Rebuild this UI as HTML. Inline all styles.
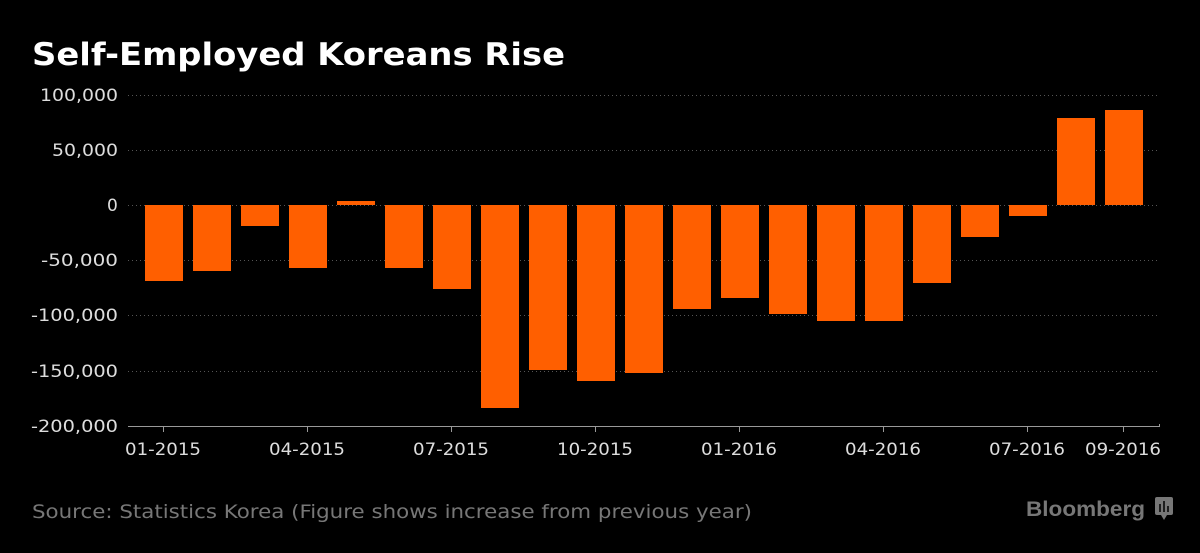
<!DOCTYPE html>
<html><head><meta charset="utf-8"><style>
html,body{margin:0;padding:0;background:#000;}
svg{display:block}
</style></head><body>
<svg width="1200" height="553" xmlns="http://www.w3.org/2000/svg">
<rect width="1200" height="553" fill="#000"/>
<text x="32" y="65" font-family="DejaVu Sans, sans-serif" font-weight="bold" font-size="31" fill="#fff" textLength="533" lengthAdjust="spacingAndGlyphs">Self-Employed Koreans Rise</text>
<g stroke="#555" stroke-width="1" stroke-dasharray="1,3">
<line x1="128" x2="1158" y1="95.5" y2="95.5"/>
<line x1="128" x2="1158" y1="150.5" y2="150.5"/>
<line x1="128" x2="1158" y1="205.5" y2="205.5"/>
<line x1="128" x2="1158" y1="260.5" y2="260.5"/>
<line x1="128" x2="1158" y1="315.5" y2="315.5"/>
<line x1="128" x2="1158" y1="371.5" y2="371.5"/>
</g>
<g font-family="DejaVu Sans, sans-serif" font-size="17" fill="#ddd">
<text x="40" y="101" textLength="78" lengthAdjust="spacingAndGlyphs">100,000</text>
<text x="52" y="156" textLength="66" lengthAdjust="spacingAndGlyphs">50,000</text>
<text x="107" y="211">0</text>
<text x="41" y="266" textLength="77" lengthAdjust="spacingAndGlyphs">-50,000</text>
<text x="31" y="321" textLength="87" lengthAdjust="spacingAndGlyphs">-100,000</text>
<text x="31" y="377" textLength="87" lengthAdjust="spacingAndGlyphs">-150,000</text>
<text x="31" y="432" textLength="87" lengthAdjust="spacingAndGlyphs">-200,000</text>
</g>
<g fill="#ff5f00">
<rect x="145" y="205" width="38" height="76"/>
<rect x="193" y="205" width="38" height="66"/>
<rect x="241" y="205" width="38" height="21"/>
<rect x="289" y="205" width="38" height="63"/>
<rect x="337" y="201" width="38" height="4"/>
<rect x="385" y="205" width="38" height="63"/>
<rect x="433" y="205" width="38" height="84"/>
<rect x="481" y="205" width="38" height="203"/>
<rect x="529" y="205" width="38" height="165"/>
<rect x="577" y="205" width="38" height="176"/>
<rect x="625" y="205" width="38" height="168"/>
<rect x="673" y="205" width="38" height="104"/>
<rect x="721" y="205" width="38" height="93"/>
<rect x="769" y="205" width="38" height="109"/>
<rect x="817" y="205" width="38" height="116"/>
<rect x="865" y="205" width="38" height="116"/>
<rect x="913" y="205" width="38" height="78"/>
<rect x="961" y="205" width="38" height="32"/>
<rect x="1009" y="205" width="38" height="11"/>
<rect x="1057" y="118" width="38" height="87"/>
<rect x="1105" y="110" width="38" height="95"/>
</g>
<g stroke="#999" stroke-width="1">
<line x1="128" x2="1160" y1="426.5" y2="426.5"/>
<line x1="163.5" x2="163.5" y1="426" y2="432"/>
<line x1="307.5" x2="307.5" y1="426" y2="432"/>
<line x1="451.5" x2="451.5" y1="426" y2="432"/>
<line x1="595.5" x2="595.5" y1="426" y2="432"/>
<line x1="739.5" x2="739.5" y1="426" y2="432"/>
<line x1="883.5" x2="883.5" y1="426" y2="432"/>
<line x1="1027.5" x2="1027.5" y1="426" y2="432"/>
<line x1="1123.5" x2="1123.5" y1="426" y2="432"/>
<line x1="1159.5" x2="1159.5" y1="424" y2="427"/>
</g>
<g font-family="DejaVu Sans, sans-serif" font-size="17" fill="#ddd">
<text x="125" y="455" textLength="76" lengthAdjust="spacingAndGlyphs">01-2015</text>
<text x="269" y="455" textLength="76" lengthAdjust="spacingAndGlyphs">04-2015</text>
<text x="413" y="455" textLength="76" lengthAdjust="spacingAndGlyphs">07-2015</text>
<text x="557" y="455" textLength="76" lengthAdjust="spacingAndGlyphs">10-2015</text>
<text x="701" y="455" textLength="76" lengthAdjust="spacingAndGlyphs">01-2016</text>
<text x="845" y="455" textLength="76" lengthAdjust="spacingAndGlyphs">04-2016</text>
<text x="989" y="455" textLength="76" lengthAdjust="spacingAndGlyphs">07-2016</text>
<text x="1085" y="455" textLength="76" lengthAdjust="spacingAndGlyphs">09-2016</text>
</g>
<text x="32" y="518" font-family="DejaVu Sans, sans-serif" font-size="19" fill="#777" textLength="720" lengthAdjust="spacingAndGlyphs">Source: Statistics Korea (Figure shows increase from previous year)</text>
<text x="1026" y="516" font-family="Liberation Sans, sans-serif" font-weight="bold" font-size="21" fill="#777" textLength="119" lengthAdjust="spacingAndGlyphs">Bloomberg</text>
<rect x="1155" y="497" width="18" height="18" rx="2" fill="#777"/>
<path d="M1161 515 L1164 520 L1167 515Z" fill="#777"/>
<g stroke="#000" stroke-width="1.5"><line x1="1160" y1="504" x2="1160" y2="512"/><line x1="1164" y1="501" x2="1164" y2="512"/><line x1="1168" y1="506" x2="1168" y2="512"/></g>
</svg>
</body></html>
